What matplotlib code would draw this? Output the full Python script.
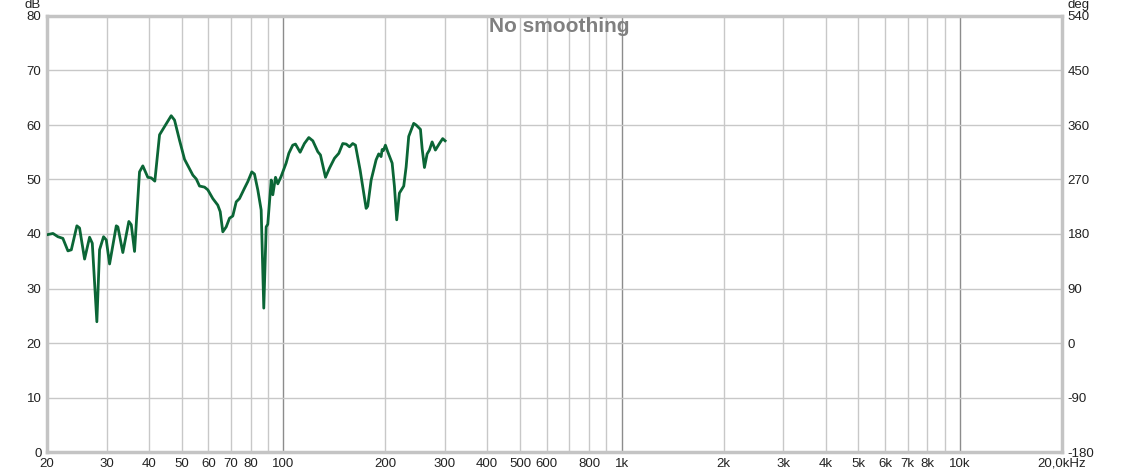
import numpy as np
import matplotlib.pyplot as plt

plt.rcParams['font.family'] = ['Liberation Sans', 'DejaVu Sans']
plt.rcParams['axes.unicode_minus'] = False

# measured response (Hz, dB)
freq = [20.13, 20.83, 21.54, 22.28, 23.06, 23.60, 24.51, 24.96, 25.83, 26.72,
        27.22, 28.08, 28.60, 29.39, 29.94, 30.62, 32.05, 32.40, 33.51, 34.91,
        35.49, 36.29, 37.54, 38.39, 39.72, 40.66, 41.66, 43.02, 44.50, 46.57,
        47.64, 49.29, 51.00, 53.97, 55.23, 56.47, 58.43, 59.76, 61.82, 63.94,
        65.01, 66.17, 67.71, 69.26, 70.82, 72.49, 74.13, 76.69, 78.42, 80.60,
        82.08, 83.96, 85.91, 87.45, 88.89, 89.86, 91.98, 92.99, 94.72, 96.21,
        98.45, 101.8, 103.7, 106.5, 108.5, 112.0, 115.3, 118.8, 122.1, 126.3,
        128.6, 133.1, 136.8, 141.5, 145.7, 149.7, 153.2, 156.7, 160.2, 163.2,
        168.5, 175.5, 177.4, 181.6, 187.8, 191.2, 194.3, 195.7, 197.4, 200.1,
        203.3, 209.5, 212.8, 216.1, 220.1, 226.7, 230.4, 234.5, 242.6, 246.6,
        254.0, 256.9, 261.0, 265.8, 270.0, 275.0, 281.2, 289.0, 295.5, 300.4]
spl = [39.9, 40.1, 39.5, 39.2, 36.9, 37.1, 41.5, 41.1, 35.4, 39.4,
       38.3, 23.9, 37.1, 39.5, 38.9, 34.5, 41.5, 41.3, 36.6, 42.3,
       41.7, 36.8, 51.4, 52.5, 50.4, 50.3, 49.7, 58.2, 59.7, 61.7,
       60.9, 57.2, 53.7, 50.8, 50.1, 48.8, 48.6, 48.1, 46.5, 45.3,
       44.1, 40.4, 41.3, 42.9, 43.3, 45.9, 46.5, 48.4, 49.6, 51.4,
       51.0, 48.1, 44.4, 26.4, 41.3, 41.8, 49.9, 47.2, 50.4, 49.2,
       50.6, 53.0, 54.8, 56.3, 56.5, 55.0, 56.6, 57.7, 57.1, 55.1,
       54.5, 50.4, 52.1, 53.9, 54.8, 56.6, 56.5, 56.0, 56.6, 56.3,
       51.7, 44.7, 45.1, 49.9, 53.6, 54.7, 54.2, 55.5, 55.3, 56.3,
       55.1, 53.0, 48.7, 42.6, 47.5, 48.8, 52.3, 57.9, 60.3, 60.0,
       59.2, 55.7, 52.2, 54.7, 55.4, 56.9, 55.4, 56.6, 57.5, 57.1]

x_ticks = [20, 30, 40, 50, 60, 70, 80, 100, 200, 300, 400, 500, 600, 800,
           1000, 2000, 3000, 4000, 5000, 6000, 7000, 8000, 10000, 20000]
x_labels = ['20', '30', '40', '50', '60', '70', '80', '100', '200', '300', '400',
            '500', '600', '800', '1k', '2k', '3k', '4k', '5k', '6k', '7k', '8k',
            '10k', '20,0kHz']
minor_grid = [30, 40, 50, 60, 70, 80, 90, 200, 300, 400, 500, 600, 700, 800, 900,
              2000, 3000, 4000, 5000, 6000, 7000, 8000, 9000]
major_grid = [100, 1000, 10000]
deg_ticks = [-180, -90, 0, 90, 180, 270, 360, 450, 540]

fig = plt.figure(figsize=(11.21, 4.73), dpi=100)
ax = fig.add_axes([47 / 1121, 21 / 473, 1015 / 1121, 436 / 473])
ax.set_xscale('log')
ax.set_xlim(20, 20000)
ax.set_ylim(0, 80)

for f in minor_grid:
    ax.axvline(f, color='#c8c8c8', lw=1, zorder=1)
for f in major_grid:
    ax.axvline(f, color='#8c8c8c', lw=1, zorder=1)
for v in range(10, 80, 10):
    ax.axhline(v, color='#c8c8c8', lw=1, zorder=1)

ax.plot(freq, spl, color='#0b6636', lw=2, zorder=3)

ax.set_xticks(x_ticks)
ax.set_xticklabels(x_labels)
ax.xaxis.set_minor_locator(plt.NullLocator())
ax.set_yticks(range(0, 81, 10))
ax.tick_params(length=0, labelsize=9.5, colors='#222222', pad=4)
for s in ax.spines.values():
    s.set_color('#c4c4c4')
    s.set_linewidth(2.5)

ax2 = ax.twinx()
ax2.set_ylim(-180, 540)
ax2.set_yticks(deg_ticks)
ax2.tick_params(length=0, labelsize=9.5, colors='#222222', pad=4)
for s in ax2.spines.values():
    s.set_visible(False)

fig.text(41 / 1121, 1 - 5 / 473, 'dB', ha='right', va='center', fontsize=9.5, color='#222222')
fig.text(1067 / 1121, 1 - 5 / 473, 'deg', ha='left', va='center', fontsize=9.5, color='#222222')
ax.text(0.505, 0.998, 'No smoothing', transform=ax.transAxes, ha='center', va='top',
        fontsize=15, fontweight='bold', color='#808080')

fig.savefig('out.png', dpi=100)
